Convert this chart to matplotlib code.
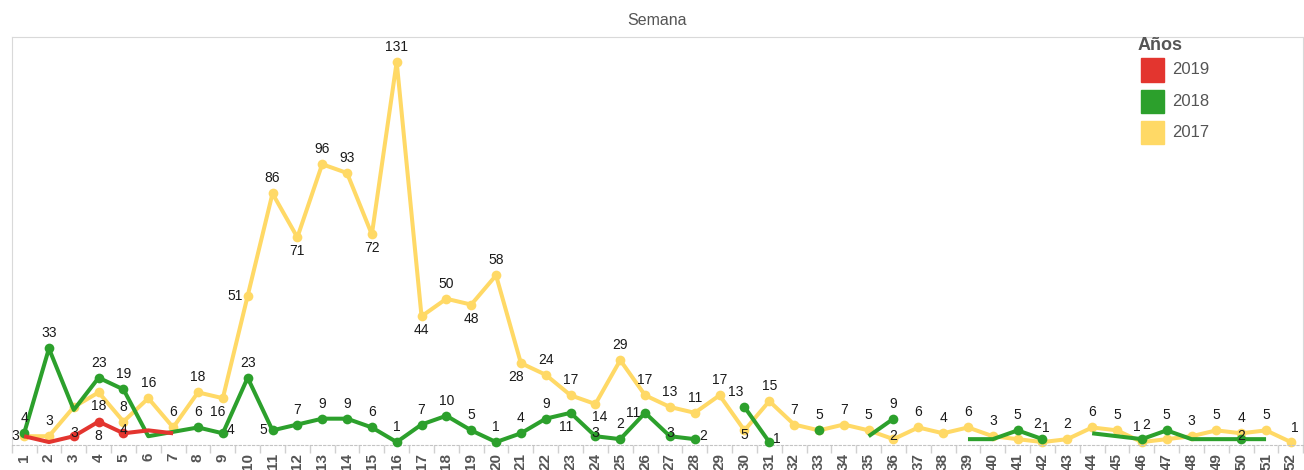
import numpy as np
import matplotlib.pyplot as plt
from matplotlib.patches import Rectangle

plt.rcParams['font.family'] = ['Liberation Sans', 'DejaVu Sans']

# datos por semana
semanas = list(range(1, 53))

v2017 = [3, 3, 13, 18, 8, 16, 6, 18, 16, 51, 86, 71, 96, 93, 72, 131, 44, 50, 48, 58,
         28, 24, 17, 14, 29, 17, 13, 11, 17, 5, 15, 7, 5, 7, 5, 2, 6, 4, 6, 3,
         2, 1, 2, 6, 5, 1, 2, 3, 5, 4, 5, 1]

# None = corte de la linea
sem2018 = [1, 2, 3, 4, 5, 6, 8, 9, 10, 11, 12, 13, 14, 15, 16, 17, 18, 19, 20, 21,
           22, 23, 24, 25, 26, 27, 28, 29, 30, 31, 32, 33, 34, 35, 36, 37, 39, 40, 41, 42,
           43, 44, 46, 47, 48, 49, 50, 51]
v2018 = [4, 33, 12, 23, 19, 3, 6, 4, 23, 5, 7, 9, 9, 6, 1, 7, 10, 5, 1, 4,
         9, 11, 3, 2, 11, 3, 2, None, 13, 1, None, 5, None, 3, 9, None, 2, 2, 5, 2,
         None, 4, 2, 5, 2, 2, 2, 2]

sem2019 = [1, 2, 3, 4, 5, 6, 7]
v2019 = [3, 1, 3, 8, 4, 5, 4]

anios = ['2019', '2018', '2017']
colores = {'2019': '#e3352f', '2018': '#2ca02c', '2017': '#ffd966'}

# donde va cada etiqueta (a = arriba por defecto, h = oculta)
pos2017 = {1: 'l', 3: 'h', 4: 'b', 9: 'bl', 10: 'l', 12: 'b', 15: 'b', 17: 'b', 19: 'b',
           21: 'bl', 24: 'br', 30: 'd', 36: 'o', 41: 'h', 42: 'ar', 46: 'al', 47: 'h', 52: 'ar'}
pos2018 = {3: 'h', 6: 'h', 9: 'r', 11: 'l', 23: 'bl', 24: 'o', 26: 'l', 27: 'o', 28: 'r',
           30: 'al', 31: 'r', 33: 'h', 35: 'h', 39: 'h', 40: 'h', 42: 'al', 44: 'h',
           46: 'ar', 48: 'h', 49: 'h', 50: 'o', 51: 'h'}
pos2019 = {1: 'h', 2: 'h', 3: 'o', 4: 'b', 5: 'o', 6: 'h', 7: 'h'}

OFF = {'a': (0, 15, 'center'), 'b': (0, -14, 'center'), 'l': (-5, 0, 'right'),
       'r': (4, 3, 'left'), 'o': (0, 3, 'center'), 'd': (0, -5, 'center'),
       'al': (-1, 15, 'right'), 'ar': (0, 14, 'left'), 'bl': (3, -14, 'right'),
       'br': (-3, -13, 'left')}

W, H = 1304, 470
fig = plt.figure(figsize=(W / 100, H / 100), dpi=100)
ax = fig.add_axes([11.7 / W, 1 - 445 / H, (1303.3 - 11.7) / W, (445 - 37) / H])
ax.set_xlim(0.5, 52.5)
ax.set_ylim(0, 139.5)


def etiquetas(xs, ys, pos):
    for x, y in zip(xs, ys):
        if y is None:
            continue
        modo = pos.get(x, 'a')
        if modo == 'h':
            continue
        dx, dy, ha = OFF[modo]
        ax.annotate(str(y), (x, y), xytext=(dx, dy), textcoords='offset pixels',
                    ha=ha, va='center', fontsize=10, color='#1a1a1a', zorder=10)


def serie(xs, ys, color, marcas, z):
    ys = np.array([np.nan if v is None else v for v in ys], dtype=float)
    ax.plot(xs, ys, color=color, lw=2.9, solid_capstyle='butt', solid_joinstyle='round',
            zorder=z, clip_on=False)
    idx = [i for i in marcas if not np.isnan(ys[i])]
    ax.plot(np.array(xs)[idx], ys[idx], 'o', color=color, ms=7, mec='none', zorder=z,
            clip_on=False)


# 2017: todas las marcas
serie(semanas, v2017, colores['2017'], range(len(semanas)), 2)
# 2018: sin marca en algunas semanas
sin_marca = {3, 6, 35, 39, 40, 44, 48, 49, 51}
serie(sem2018, v2018, colores['2018'],
      [i for i, s in enumerate(sem2018) if s not in sin_marca], 3)
# 2019
serie(sem2019, v2019, colores['2019'], [2, 3, 4], 4)

etiquetas(semanas, v2017, pos2017)
etiquetas(sem2018, v2018, pos2018)
etiquetas(sem2019, v2019, pos2019)

# ejes
ax.set_yticks([])
ax.set_xticks(semanas)
ax.set_xticklabels([str(s) for s in semanas], rotation=90, fontweight='bold',
                   color='#555555', fontsize=11)
ax.set_xticks(np.arange(0.5, 53, 1), minor=True)
ax.tick_params(axis='x', which='major', length=0, pad=5.8)
ax.tick_params(axis='x', which='minor', length=5.5, color='#d0d0d0', width=1)
for s in ax.spines.values():
    s.set_color('#d9d9d9')
ax.spines['bottom'].set_color('#c4c4c4')
ax.spines['bottom'].set_linestyle((0, (2, 2)))

fig.text(657 / W, 1 - 20.5 / H, 'Semana', ha='center', va='center', fontsize=11.5,
         color='#555555')

# leyenda
fig.text(1138 / W, 1 - 45 / H, 'Años', ha='left', va='center', fontsize=13,
         fontweight='bold', color='#555555')
for k, anio in enumerate(anios):
    yc = 70 + k * 31.3
    fig.add_artist(Rectangle((1141 / W, 1 - (yc + 11.5) / H), 23 / W, 23 / H,
                             transform=fig.transFigure, color=colores[anio]))
    fig.text(1172 / W, 1 - yc / H, anio, ha='left', va='center', fontsize=12,
             color='#555555')

fig.savefig('out.png', dpi=100)
